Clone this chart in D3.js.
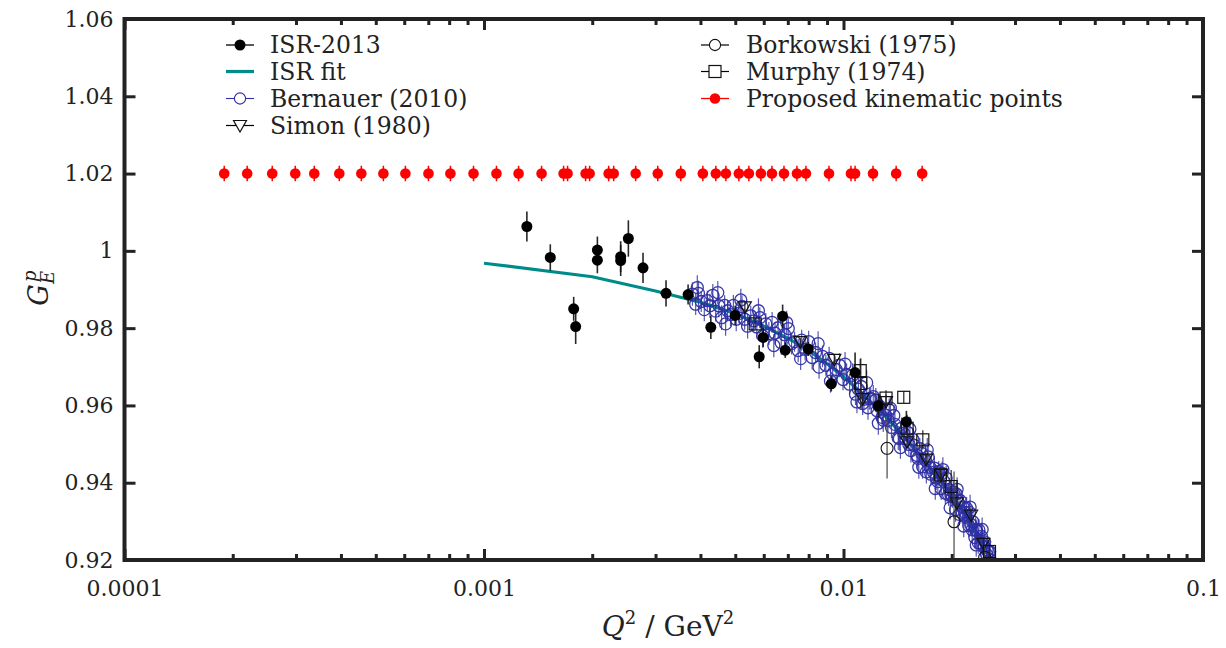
<!DOCTYPE html>
<html>
<head>
<meta charset="utf-8">
<script src="https://cdn.jsdelivr.net/npm/d3@7"></script>
<style>
  body { margin: 0; background: #fff; }
  svg { display: block; }
  text { font-family: "DejaVu Serif", "Liberation Serif", serif; fill: #222; }
</style>
</head>
<body>
<svg id="chart" width="1226" height="648"></svg>
<script>
// ---- data: [Q^2 (GeV^2), G_E^p, error] ----
const isr2013 = [
  [0.001316, 1.0063, 0.0039], [0.001529, 0.9983, 0.0034], [0.001776, 0.9850, 0.0031],
  [0.001799, 0.9804, 0.0045], [0.002067, 1.0002, 0.0035], [0.002067, 0.9976, 0.0034],
  [0.002400, 0.9985, 0.0040], [0.002400, 0.9975, 0.0040], [0.002521, 1.0032, 0.0047],
  [0.002769, 0.9956, 0.0039], [0.003209, 0.9890, 0.0034], [0.003696, 0.9887, 0.0026],
  [0.004275, 0.9802, 0.0030], [0.004996, 0.9833, 0.0025], [0.005828, 0.9726, 0.0030],
  [0.005980, 0.9776, 0.0025], [0.006771, 0.9831, 0.0030], [0.006886, 0.9743, 0.0020],
  [0.007979, 0.9746, 0.0018], [0.009248, 0.9656, 0.0020], [0.01077, 0.9685, 0.0052],
  [0.01250, 0.9599, 0.0030], [0.01496, 0.9558, 0.0028]
];

// ISR fit curve: [Q^2, G_E^p]
const isrFit = [
  [0.001, 0.9968], [0.002, 0.9933], [0.003, 0.9896], [0.004, 0.9867], [0.005, 0.9838],
  [0.006, 0.9805], [0.007, 0.9774], [0.008, 0.9742], [0.009, 0.9708], [0.010, 0.9674],
  [0.011, 0.9640], [0.012, 0.9606], [0.013, 0.9574], [0.014, 0.9542], [0.015, 0.9511],
  [0.016, 0.9480], [0.017, 0.9450], [0.018, 0.9420], [0.019, 0.9395], [0.020, 0.9368],
  [0.021, 0.9341], [0.022, 0.9313], [0.023, 0.9284], [0.024, 0.9254], [0.025, 0.9222],
  [0.026, 0.9190]
];

const bernauer2010 = [
  [0.00380, 0.9888, 0.0030], [0.00388, 0.9862, 0.0028], [0.00395, 0.9890, 0.0033], [0.00402, 0.9869, 0.0027],
  [0.00410, 0.9848, 0.0030], [0.00418, 0.9871, 0.0026], [0.00425, 0.9858, 0.0031], [0.00433, 0.9885, 0.0029],
  [0.00441, 0.9844, 0.0027], [0.00450, 0.9858, 0.0030], [0.00458, 0.9827, 0.0032], [0.00467, 0.9859, 0.0026],
  [0.00476, 0.9845, 0.0028], [0.00485, 0.9835, 0.0030], [0.00494, 0.9859, 0.0027], [0.00503, 0.9823, 0.0031],
  [0.00512, 0.9838, 0.0026], [0.00522, 0.9856, 0.0029], [0.00531, 0.9823, 0.0027], [0.00541, 0.9805, 0.0032],
  [0.00552, 0.9832, 0.0026], [0.00563, 0.9819, 0.0028], [0.00574, 0.9803, 0.0030], [0.00585, 0.9827, 0.0027],
  [0.00596, 0.9780, 0.0031],
  [0.00608, 0.9811, 0.0028], [0.00620, 0.9786, 0.0030], [0.00633, 0.9815, 0.0027], [0.00645, 0.9787, 0.0029],
  [0.00658, 0.9801, 0.0026], [0.00671, 0.9762, 0.0031], [0.00686, 0.9783, 0.0027], [0.00702, 0.9799, 0.0030],
  [0.00717, 0.9760, 0.0028], [0.00731, 0.9765, 0.0026], [0.00748, 0.9742, 0.0030], [0.00765, 0.9769, 0.0027],
  [0.00782, 0.9745, 0.0029], [0.00800, 0.9765, 0.0028], [0.00818, 0.9724, 0.0031], [0.00836, 0.9737, 0.0026],
  [0.00855, 0.9699, 0.0030], [0.00874, 0.9727, 0.0028], [0.00893, 0.9704, 0.0027], [0.00912, 0.9722, 0.0030],
  [0.00933, 0.9682, 0.0029], [0.00954, 0.9693, 0.0027], [0.00975, 0.9704, 0.0031], [0.00997, 0.9667, 0.0028],
  [0.0102, 0.9680, 0.0029], [0.0104, 0.9655, 0.0027], [0.0106, 0.9678, 0.0031], [0.0108, 0.9629, 0.0028],
  [0.0110, 0.9642, 0.0030], [0.0112, 0.9649, 0.0027], [0.0114, 0.9616, 0.0029], [0.0117, 0.9594, 0.0031],
  [0.0119, 0.9618, 0.0028], [0.0121, 0.9623, 0.0030], [0.0124, 0.9586, 0.0027], [0.0126, 0.9598, 0.0029],
  [0.0129, 0.9562, 0.0031], [0.0131, 0.9575, 0.0028], [0.0134, 0.9588, 0.0030], [0.0136, 0.9543, 0.0027],
  [0.0139, 0.9551, 0.0029], [0.0142, 0.9516, 0.0031], [0.0145, 0.9541, 0.0028], [0.0148, 0.9514, 0.0030],
  [0.0151, 0.9530, 0.0027], [0.0154, 0.9483, 0.0031], [0.0157, 0.9497, 0.0029],
  [0.0160, 0.9471, 0.0030], [0.0163, 0.9488, 0.0028], [0.0166, 0.9441, 0.0031], [0.0169, 0.9458, 0.0027],
  [0.0172, 0.9467, 0.0030], [0.0175, 0.9422, 0.0029], [0.0178, 0.9427, 0.0028], [0.0181, 0.9412, 0.0031],
  [0.0184, 0.9429, 0.0027], [0.0187, 0.9385, 0.0030], [0.0190, 0.9404, 0.0029], [0.0193, 0.9412, 0.0031],
  [0.0196, 0.9368, 0.0028], [0.0199, 0.9369, 0.0030], [0.0202, 0.9376, 0.0027], [0.0205, 0.9330, 0.0031],
  [0.0208, 0.9353, 0.0029], [0.0211, 0.9354, 0.0030], [0.0214, 0.9322, 0.0028], [0.0217, 0.9324, 0.0031],
  [0.0220, 0.9334, 0.0029], [0.0223, 0.9289, 0.0030], [0.0226, 0.9292, 0.0028], [0.0229, 0.9299, 0.0031],
  [0.0232, 0.9258, 0.0029], [0.0235, 0.9275, 0.0030], [0.0238, 0.9278, 0.0028], [0.0241, 0.9241, 0.0031],
  [0.0244, 0.9243, 0.0029], [0.0247, 0.9247, 0.0030], [0.0250, 0.9215, 0.0028], [0.0253, 0.9221, 0.0031],
  [0.0256, 0.9200, 0.0029],
  [0.0113, 0.9605, 0.0030], [0.0118, 0.9617, 0.0028], [0.0123, 0.9614, 0.0031], [0.0128, 0.9569, 0.0029],
  [0.0133, 0.9561, 0.0030], [0.0138, 0.9574, 0.0028], [0.0143, 0.9514, 0.0031], [0.0147, 0.9528, 0.0029],
  [0.0152, 0.9499, 0.0030], [0.0156, 0.9512, 0.0028], [0.0161, 0.9463, 0.0031], [0.0165, 0.9476, 0.0029],
  [0.0170, 0.9428, 0.0030], [0.0174, 0.9440, 0.0028], [0.0179, 0.9438, 0.0031], [0.0183, 0.9403, 0.0029],
  [0.0188, 0.9424, 0.0030], [0.0192, 0.9373, 0.0028], [0.0197, 0.9382, 0.0031], [0.0201, 0.9364, 0.0029],
  [0.0206, 0.9371, 0.0030], [0.0210, 0.9318, 0.0028], [0.0215, 0.9337, 0.0031], [0.0219, 0.9311, 0.0029],
  [0.0224, 0.9323, 0.0030], [0.0228, 0.9278, 0.0028], [0.0233, 0.9279, 0.0031], [0.0237, 0.9245, 0.0029],
  [0.0242, 0.9261, 0.0030], [0.0246, 0.9233, 0.0028], [0.0251, 0.9226, 0.0031], [0.0255, 0.9222, 0.0029],
  [0.00392, 0.9905, 0.0032], [0.00447, 0.9892, 0.0030], [0.00470, 0.9811, 0.0031], [0.00518, 0.9873, 0.0029],
  [0.00580, 0.9845, 0.0032], [0.00640, 0.9755, 0.0030], [0.00695, 0.9814, 0.0031], [0.00760, 0.9721, 0.0029],
  [0.00850, 0.9760, 0.0032], [0.00920, 0.9663, 0.0030], [0.01010, 0.9707, 0.0031], [0.01090, 0.9609, 0.0029],
  [0.01160, 0.9659, 0.0032], [0.01250, 0.9554, 0.0030], [0.01350, 0.9593, 0.0031], [0.01440, 0.9491, 0.0029],
  [0.01530, 0.9539, 0.0032], [0.01620, 0.9440, 0.0030], [0.01710, 0.9485, 0.0031], [0.01800, 0.9385, 0.0029],
  [0.01890, 0.9434, 0.0032], [0.01980, 0.9335, 0.0030], [0.02070, 0.9383, 0.0031], [0.02160, 0.9288, 0.0029],
  [0.02250, 0.9337, 0.0032], [0.02340, 0.9239, 0.0030], [0.02430, 0.9279, 0.0031], [0.02520, 0.9186, 0.0029]
];

const simon1980 = [
  [0.005316, 0.9855, 0.0012], [0.00758, 0.9765, 0.0010], [0.00943, 0.9719, 0.0012],
  [0.01131, 0.9618, 0.0015], [0.01313, 0.9610, 0.0018], [0.01502, 0.9506, 0.0016],
  [0.01698, 0.9461, 0.0015], [0.01869, 0.9422, 0.0013], [0.02067, 0.9348, 0.0020],
  [0.02265, 0.9316, 0.0018], [0.02451, 0.9243, 0.0015]
];

const borkowski1975 = [
  [0.01322, 0.9489, 0.0078], [0.0203, 0.9299, 0.0130], [0.0247, 0.9207, 0.0030]
];

const murphy1974 = [
  [0.00568, 0.9811, 0.0015], [0.01113, 0.9690, 0.0030], [0.01117, 0.9657, 0.0065],
  [0.01313, 0.9619, 0.0020], [0.01471, 0.9621, 0.0015], [0.01503, 0.9541, 0.0035],
  [0.01662, 0.9511, 0.0025], [0.01861, 0.9420, 0.0020], [0.01993, 0.9390, 0.0043],
  [0.02547, 0.9222, 0.0020]
];

// proposed kinematics, all drawn at G = 1.02
const proposedQ2 = [
  0.0001894, 0.0002194, 0.0002576, 0.0002985, 0.0003372, 0.0003958, 0.0004558, 0.0005250,
  0.0006044, 0.0007007, 0.0008065, 0.0009350, 0.001083, 0.001248, 0.001446, 0.001665,
  0.001708, 0.001917, 0.001967, 0.002222, 0.002295, 0.002642, 0.003043, 0.003527,
  0.004062, 0.004414, 0.004708, 0.005116, 0.005455, 0.005891, 0.006323, 0.006830,
  0.007422, 0.007862, 0.009112, 0.01049, 0.01077, 0.01208, 0.01401, 0.01655
];
const proposedG = 1.02;
const proposedErr = 0.002;

// axis ticks
const xTickValues = [1e-4, 1e-3, 1e-2, 1e-1];
const xTickLabels = ["0.0001", "0.001", "0.01", "0.1"];
const yTickValues = [0.92, 0.94, 0.96, 0.98, 1.00, 1.02, 1.04, 1.06];
const yTickLabels = ["0.92", "0.94", "0.96", "0.98", "1", "1.02", "1.04", "1.06"];

// ---- layout ----
const L = 124.5, R = 1203, T = 19, B = 560;
const svg = d3.select("#chart");
const x = d3.scaleLog().domain([1e-4, 0.1]).range([L, R]);
const y = d3.scaleLinear().domain([0.92, 1.06]).range([B, T]);

const ink = "#222";
const blue = "#2e2ea2";
const teal = "#008b8b";
const serif = '"DejaVu Serif", "Liberation Serif", serif';

svg.append("defs").append("clipPath").attr("id", "plotclip")
  .append("rect").attr("x", L).attr("y", T).attr("width", R - L).attr("height", B - T);

// minor tick positions on the log axis
const xMinor = [];
for (let e = -4; e < -1; e++) for (let k = 2; k <= 9; k++) xMinor.push(k * Math.pow(10, e));

function styleAxis(g, w) {
  g.select(".domain").remove();
  g.selectAll(".tick line").attr("stroke", ink).attr("stroke-width", w);
  g.selectAll(".tick text").attr("font-size", 22).attr("fill", ink).style("font-family", serif);
}

// bottom axis with labels
svg.append("g").attr("transform", `translate(0,${B})`)
  .call(d3.axisBottom(x).tickValues(xTickValues).tickSize(-11).tickPadding(20)
    .tickFormat((d, i) => xTickLabels[i]))
  .call(g => styleAxis(g, 3));
svg.append("g").attr("transform", `translate(0,${B})`)
  .call(d3.axisBottom(x).tickValues(xMinor).tickSize(-6).tickFormat(""))
  .call(g => styleAxis(g, 3));
// top axis mirrors ticks
svg.append("g").attr("transform", `translate(0,${T})`)
  .call(d3.axisTop(x).tickValues(xTickValues).tickSize(-11).tickFormat(""))
  .call(g => styleAxis(g, 3));
svg.append("g").attr("transform", `translate(0,${T})`)
  .call(d3.axisTop(x).tickValues(xMinor).tickSize(-6).tickFormat(""))
  .call(g => styleAxis(g, 3));
// left axis with labels
svg.append("g").attr("transform", `translate(${L},0)`)
  .call(d3.axisLeft(y).tickValues(yTickValues).tickSize(-11).tickPadding(11)
    .tickFormat((d, i) => yTickLabels[i]))
  .call(g => styleAxis(g, 3));
// right axis mirrors ticks
svg.append("g").attr("transform", `translate(${R},0)`)
  .call(d3.axisRight(y).tickValues(yTickValues).tickSize(-11).tickFormat(""))
  .call(g => styleAxis(g, 3));

// ---- plotted data ----
const plot = svg.append("g").attr("clip-path", "url(#plotclip)");

function errorBars(data, color, width, opacity) {
  plot.append("g").selectAll("line").data(data).join("line")
    .attr("x1", d => x(d[0])).attr("x2", d => x(d[0]))
    .attr("y1", d => y(d[1] - d[2])).attr("y2", d => y(d[1] + d[2]))
    .attr("stroke", color).attr("stroke-width", width).attr("opacity", opacity);
}

// ISR fit line
plot.append("path")
  .datum(isrFit)
  .attr("fill", "none").attr("stroke", teal).attr("stroke-width", 3.2)
  .attr("d", d3.line().x(d => x(d[0])).y(d => y(d[1])));

// Bernauer (2010)
errorBars(bernauer2010, blue, 1.2, 0.8);
plot.append("g").selectAll("circle").data(bernauer2010).join("circle")
  .attr("cx", d => x(d[0])).attr("cy", d => y(d[1])).attr("r", 6)
  .attr("fill", "none").attr("stroke", blue).attr("stroke-width", 1.3).attr("opacity", 0.95);

// Simon (1980)
const triPath = "M-6.5,-5 L6.5,-5 L0,6.5 Z";
errorBars(simon1980, ink, 1.3, 0.9);
plot.append("g").selectAll("path").data(simon1980).join("path")
  .attr("transform", d => `translate(${x(d[0])},${y(d[1])})`)
  .attr("d", triPath).attr("fill", "none").attr("stroke", "#111").attr("stroke-width", 1.2);

// Borkowski (1975)
errorBars(borkowski1975, "#444", 1.3, 0.9);
plot.append("g").selectAll("circle").data(borkowski1975).join("circle")
  .attr("cx", d => x(d[0])).attr("cy", d => y(d[1])).attr("r", 6)
  .attr("fill", "none").attr("stroke", "#111").attr("stroke-width", 1.1);

// Murphy (1974)
errorBars(murphy1974, ink, 1.3, 0.9);
plot.append("g").selectAll("rect").data(murphy1974).join("rect")
  .attr("x", d => x(d[0]) - 6).attr("y", d => y(d[1]) - 6).attr("width", 12).attr("height", 12)
  .attr("fill", "none").attr("stroke", "#111").attr("stroke-width", 1.2);

// ISR-2013
errorBars(isr2013, "#111", 1.6, 0.9);
plot.append("g").selectAll("circle").data(isr2013).join("circle")
  .attr("cx", d => x(d[0])).attr("cy", d => y(d[1])).attr("r", 5.5).attr("fill", "#000");

// proposed kinematic points
const proposed = proposedQ2.map(q => [q, proposedG, proposedErr]);
errorBars(proposed, "#f00", 1.5, 1);
plot.append("g").selectAll("circle").data(proposed).join("circle")
  .attr("cx", d => x(d[0])).attr("cy", d => y(d[1])).attr("r", 5.3).attr("fill", "#f00");

// frame
svg.append("rect").attr("x", L).attr("y", T).attr("width", R - L).attr("height", B - T)
  .attr("fill", "none").attr("stroke", ink).attr("stroke-width", 4);

// ---- legend ----
const legendItems = [
  { label: "ISR-2013", col: 0, row: 0, line: "#000", lw: 1.3, mark: "dot" },
  { label: "ISR fit", col: 0, row: 1, line: teal, lw: 3.2, mark: "none" },
  { label: "Bernauer (2010)", col: 0, row: 2, line: blue, lw: 1.1, mark: "ring" },
  { label: "Simon (1980)", col: 0, row: 3, line: "#000", lw: 1.2, mark: "tri" },
  { label: "Borkowski (1975)", col: 1, row: 0, line: "#000", lw: 1.2, mark: "circ" },
  { label: "Murphy (1974)", col: 1, row: 1, line: "#000", lw: 1.2, mark: "sq" },
  { label: "Proposed kinematic points", col: 1, row: 2, line: "#f00", lw: 1.3, mark: "red" }
];
const colX = [240, 715], textX = [270, 746], rowY = [45, 71.5, 98.5, 125.5];
const lg = svg.append("g");
legendItems.forEach(it => {
  const cx = colX[it.col], cy = rowY[it.row];
  const g = lg.append("g");
  g.append("line").attr("x1", cx - 14).attr("x2", cx + 14).attr("y1", cy).attr("y2", cy)
    .attr("stroke", it.line).attr("stroke-width", it.lw);
  if (it.mark === "dot") g.append("circle").attr("cx", cx).attr("cy", cy).attr("r", 5.5).attr("fill", "#000");
  if (it.mark === "red") g.append("circle").attr("cx", cx).attr("cy", cy).attr("r", 5.3).attr("fill", "#f00");
  if (it.mark === "ring") g.append("circle").attr("cx", cx).attr("cy", cy).attr("r", 5.6)
    .attr("fill", "#fff").attr("stroke", blue).attr("stroke-width", 1.1);
  if (it.mark === "circ") g.append("circle").attr("cx", cx).attr("cy", cy).attr("r", 5.6)
    .attr("fill", "#fff").attr("stroke", "#111").attr("stroke-width", 1.1);
  if (it.mark === "sq") g.append("rect").attr("x", cx - 6).attr("y", cy - 6).attr("width", 12).attr("height", 12)
    .attr("fill", "#fff").attr("stroke", "#111").attr("stroke-width", 1.2);
  if (it.mark === "tri") g.append("path").attr("transform", `translate(${cx},${cy})`).attr("d", triPath)
    .attr("fill", "#fff").attr("stroke", "#111").attr("stroke-width", 1.2);
  g.append("text").attr("x", textX[it.col]).attr("y", cy).attr("dy", "0.36em")
    .attr("font-size", 23.5).text(it.label);
});

// ---- axis titles ----
const yt = svg.append("text").attr("transform", "translate(48,288) rotate(-90)")
  .attr("text-anchor", "middle").attr("font-size", 27);
yt.append("tspan").attr("font-style", "italic").text("G");
yt.append("tspan").attr("font-style", "italic").attr("font-size", 18).attr("dy", 6).text("E");
yt.append("tspan").attr("font-style", "italic").attr("font-size", 18).attr("dx", -11).attr("dy", -18).text("p");

const xt = svg.append("text").attr("x", 668).attr("y", 636).attr("text-anchor", "middle").attr("font-size", 28);
xt.append("tspan").attr("font-style", "italic").text("Q");
xt.append("tspan").attr("font-size", 18).attr("dy", -12).text("2");
xt.append("tspan").attr("dy", 12).text(" / GeV");
xt.append("tspan").attr("font-size", 18).attr("dy", -12).text("2");
</script>
</body>
</html>
